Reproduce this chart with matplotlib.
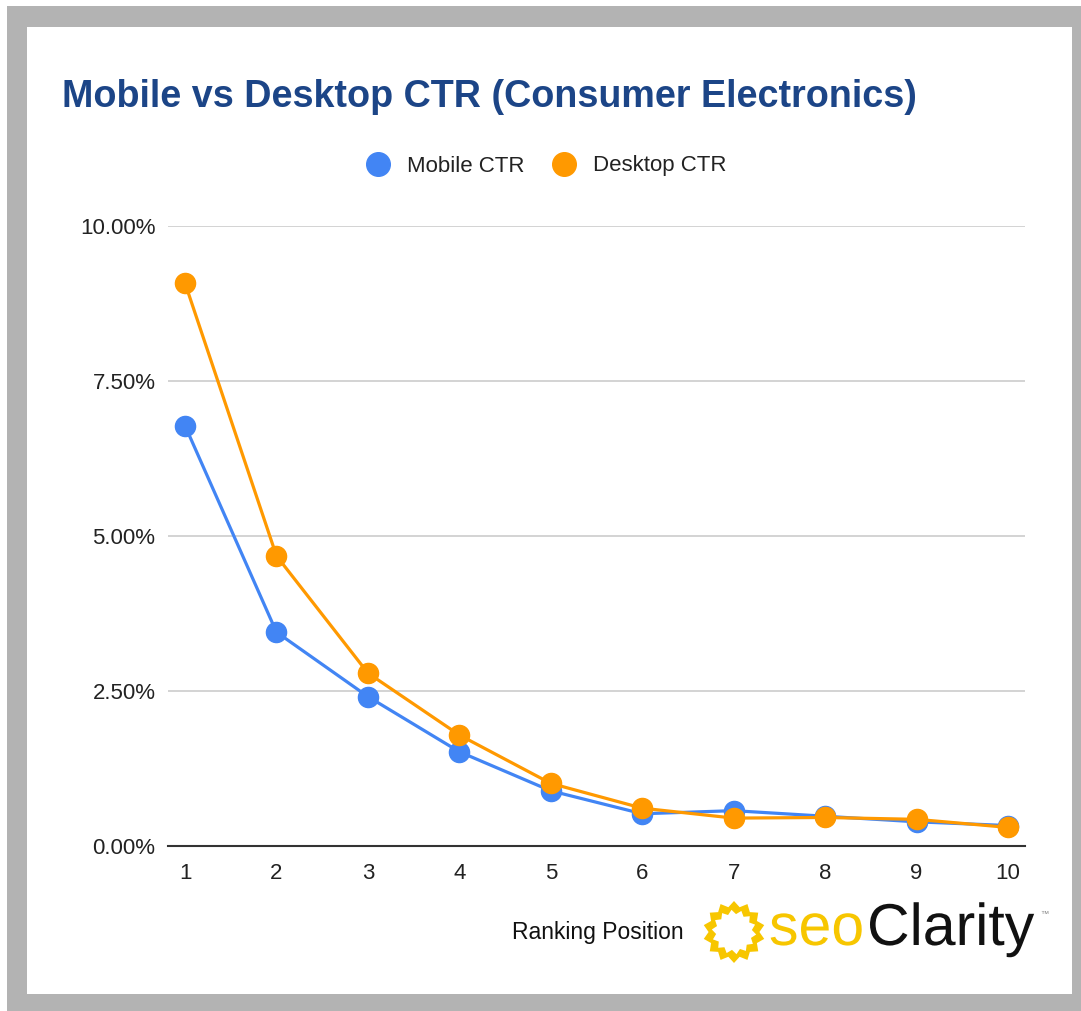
import numpy as np
import matplotlib
matplotlib.use('Agg')
import matplotlib.pyplot as plt
from matplotlib.patches import Rectangle, Polygon
from matplotlib.lines import Line2D
import matplotlib.patheffects as pe

plt.rcParams['font.family'] = ['Liberation Sans', 'DejaVu Sans']

# data (CTR in %)
positions = [1, 2, 3, 4, 5, 6, 7, 8, 9, 10]
mobile_ctr = [6.78, 3.45, 2.41, 1.52, 0.89, 0.52, 0.57, 0.48, 0.39, 0.33]
desktop_ctr = [9.08, 4.68, 2.79, 1.79, 1.01, 0.61, 0.45, 0.46, 0.43, 0.30]
y_ticks = [0, 2.5, 5, 7.5, 10]
y_labels = ['0.00%', '2.50%', '5.00%', '7.50%', '10.00%']

blue = '#4285f4'
orange = '#ff9900'

W, H = 1081, 1011
fig = plt.figure(figsize=(W / 100, H / 100), dpi=100)

# grey frame + white card
fig.patches.append(Rectangle((7 / W, 0), 1 - 7 / W, 1 - 6 / H, transform=fig.transFigure,
                             facecolor='#b3b3b3', edgecolor='none', zorder=-10))
fig.patches.append(Rectangle((27 / W, 17 / H), (1072 - 27) / W, (994 - 27) / H,
                             transform=fig.transFigure, facecolor='white',
                             edgecolor='none', zorder=-9))

ax = fig.add_axes([168 / W, 1 - 846 / H, (1025 - 168) / W, (846 - 226) / H])
ax.set_facecolor('none')

ax.plot(positions, mobile_ctr, color=blue, lw=2.3, marker='o', ms=14.5, zorder=3)
ax.plot(positions, desktop_ctr, color=orange, lw=2.3, marker='o', ms=14.5, zorder=4)

ax.set_xlim(1 - 17 / 91.44, 10 + 17 / 91.44)
ax.set_ylim(0, 10)
ax.set_xticks(positions)
ax.set_xticklabels([str(p) for p in positions])
ax.set_yticks(y_ticks)
ax.set_yticklabels(y_labels)
ax.tick_params(length=0, labelsize=16, colors='#222222')
ax.tick_params(axis='y', pad=9)
ax.tick_params(axis='x', pad=12)
for t in y_ticks[1:]:
    ax.axhline(t, color='#cccccc', lw=1.2, zorder=1)
for s in ['top', 'right', 'left']:
    ax.spines[s].set_visible(False)
ax.spines['bottom'].set_color('#333333')
ax.spines['bottom'].set_linewidth(1.5)
ax.spines['bottom'].set_zorder(5)

fig.text(62 / W, 1 - 97 / H, 'Mobile vs Desktop CTR (Consumer Electronics)',
         fontsize=27.2, fontweight='bold', color='#1c4587', va='center', ha='left')

handles = [Line2D([], [], ls='none', marker='o', ms=17, color=blue, label='Mobile CTR'),
           Line2D([], [], ls='none', marker='o', ms=17, color=orange, label='Desktop CTR')]
fig.legend(handles=handles, loc='center', bbox_to_anchor=(541 / W, 1 - 166 / H), ncol=2,
           frameon=False, fontsize=16, handletextpad=0.3, columnspacing=0.8,
           labelcolor='#222222')

fig.text(598 / W, 1 - 933 / H, 'Ranking Position', fontsize=16.5, color='#111111',
         ha='center', va='center')

# seoClarity logo
sun = fig.add_axes([703 / W, 1 - 963 / H, 62 / W, 62 / H])
sun.set_xlim(-1, 1)
sun.set_ylim(-1, 1)
sun.set_aspect('equal')
sun.axis('off')
n = 14
ang = np.linspace(0, 2 * np.pi, 2 * n, endpoint=False) + np.pi / 2
r_out = np.where(np.arange(2 * n) % 2 == 0, 1.0, 0.82)
r_in = np.where(np.arange(2 * n) % 2 == 0, 0.72, 0.58)
sun.add_patch(Polygon(np.c_[r_out * np.cos(ang), r_out * np.sin(ang)], closed=True,
                      facecolor='#f7c600', edgecolor='none'))
ang2 = ang + np.pi / (2 * n)
sun.add_patch(Polygon(np.c_[r_in * np.cos(ang2), r_in * np.sin(ang2)], closed=True,
                      facecolor='white', edgecolor='none'))

thin = [pe.withStroke(linewidth=1.4, foreground='white')]
fig.text(769 / W, 1 - 945 / H, 'seo', fontsize=42.5, color='#f7c600', ha='left',
         va='baseline', path_effects=thin)
fig.text(867 / W, 1 - 945 / H, 'Clarity', fontsize=42.5, color='#111111', ha='left',
         va='baseline', path_effects=thin)
fig.text(1040 / W, 1 - 915 / H, '\u2122', fontsize=6, color='#888888', ha='left', va='center')

fig.savefig('out.png', dpi=100)
